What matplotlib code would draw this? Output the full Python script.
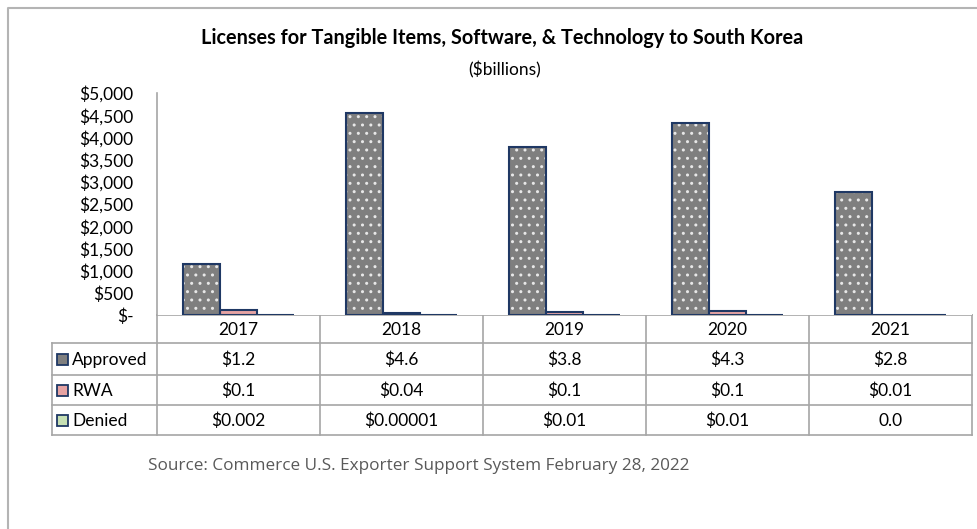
import matplotlib.pyplot as plt
import numpy as np
from matplotlib.patches import Rectangle
from matplotlib.ticker import FuncFormatter

# chart values (bars in $ millions, table labels in $ billions)
years = ['2017', '2018', '2019', '2020', '2021']
approved = [1150, 4550, 3790, 4330, 2780]
rwa = [110, 40, 60, 90, 10]
denied = [2, 0.01, 10, 10, 0]
series_names = ['Approved', 'RWA', 'Denied']
table_rows = [
    ['$1.2', '$4.6', '$3.8', '$4.3', '$2.8'],
    ['$0.1', '$0.04', '$0.1', '$0.1', '$0.01'],
    ['$0.002', '$0.00001', '$0.01', '$0.01', '0.0'],
]
yticks = [0, 500, 1000, 1500, 2000, 2500, 3000, 3500, 4000, 4500, 5000]

colors = ['#7f7f7f', '#e6a3a3', '#c6e0b4']
edge = '#1f3864'
grid_c = '#a6a6a6'

plt.rcParams['font.family'] = ['Lato', 'DejaVu Sans']

W, H = 978, 529
fig = plt.figure(figsize=(W / 100, H / 100), dpi=100)

# pixel layout
ax_l, ax_r, ax_t, ax_b = 157, 972, 93, 315
tab_l = 52
row_y = [315, 343, 375, 405, 435]

ax = fig.add_axes([ax_l / W, 1 - ax_b / H, (ax_r - ax_l) / W, (ax_b - ax_t) / H])
x = np.arange(len(years))
w = 37 / 163
for k, vals in enumerate([approved, rwa, denied]):
    pos = x + (k - 1) * w
    if k == 0:
        ax.bar(pos, vals, w, color=colors[k], edgecolor='#e8e8e8', hatch='..', linewidth=0, zorder=2)
        ax.bar(pos, vals, w, facecolor='none', edgecolor=edge, linewidth=1.5, zorder=3)
    else:
        ax.bar(pos, vals, w, color=colors[k], edgecolor=edge, linewidth=1.5, zorder=2)

ax.set_xlim(-0.5, len(years) - 0.5)
ax.set_ylim(0, 5000)
ax.set_yticks(yticks)
ax.yaxis.set_major_formatter(FuncFormatter(lambda v, p: '$-' if v == 0 else '${:,.0f}'.format(v)))
ax.tick_params(axis='y', length=0, labelsize=12.5, pad=17, colors='black')
ax.set_xticks([])
for s in ['top', 'right', 'bottom']:
    ax.spines[s].set_visible(False)
ax.spines['left'].set_color(grid_c)
ax.spines['left'].set_linewidth(1.2)
ax.spines['left'].set_zorder(1)

# data table below the plot, drawn in pixel coordinates
tab = fig.add_axes([0, 0, 1, 1], zorder=-1)
tab.set_xlim(0, W)
tab.set_ylim(H, 0)
tab.axis('off')
col_w = (ax_r - ax_l) / len(years)
col_x = [ax_l + i * col_w for i in range(len(years) + 1)]
lc = dict(color=grid_c, lw=1.2)
tab.plot([ax_l, ax_r], [row_y[0], row_y[0]], **lc)
for yy in row_y[1:]:
    tab.plot([tab_l, ax_r], [yy, yy], **lc)
for xx in col_x:
    tab.plot([xx, xx], [row_y[0], row_y[-1]], **lc)
tab.plot([tab_l, tab_l], [row_y[1], row_y[-1]], **lc)

for i, yr in enumerate(years):
    tab.text(col_x[i] + col_w / 2, (row_y[0] + row_y[1]) / 2 + 1, yr, ha='center', va='center', fontsize=12.5)
for r, name in enumerate(series_names):
    yc = (row_y[r + 1] + row_y[r + 2]) / 2
    sw = Rectangle((57, yc - 5.5), 11, 11, facecolor=colors[r], edgecolor=edge, lw=1.3)
    tab.add_patch(sw)
    tab.text(72, yc + 1, name, ha='left', va='center', fontsize=12.5)
    for i in range(len(years)):
        tab.text(col_x[i] + col_w / 2, yc + 1, table_rows[r][i], ha='center', va='center', fontsize=12.5)

# outer chart frame (only top and left visible)
tab.plot([7.5, 7.5, W + 5], [H + 5, 8, 8], color='#b4b4b4', lw=1.5, clip_on=False)

fig.text(502 / W, 1 - 38 / H, 'Licenses for Tangible Items, Software, & Technology to South Korea',
         ha='center', va='center', fontsize=14.3, fontweight='bold')
fig.text(505 / W, 1 - 70 / H, '($billions)', ha='center', va='center', fontsize=12.5)
fig.text(148 / W, 1 - 466 / H, 'Source: Commerce U.S. Exporter Support System February 28, 2022',
         ha='left', va='center', fontsize=12.3, color='#595959', family=['Open Sans', 'DejaVu Sans'])

fig.savefig('out.png', dpi=100)
